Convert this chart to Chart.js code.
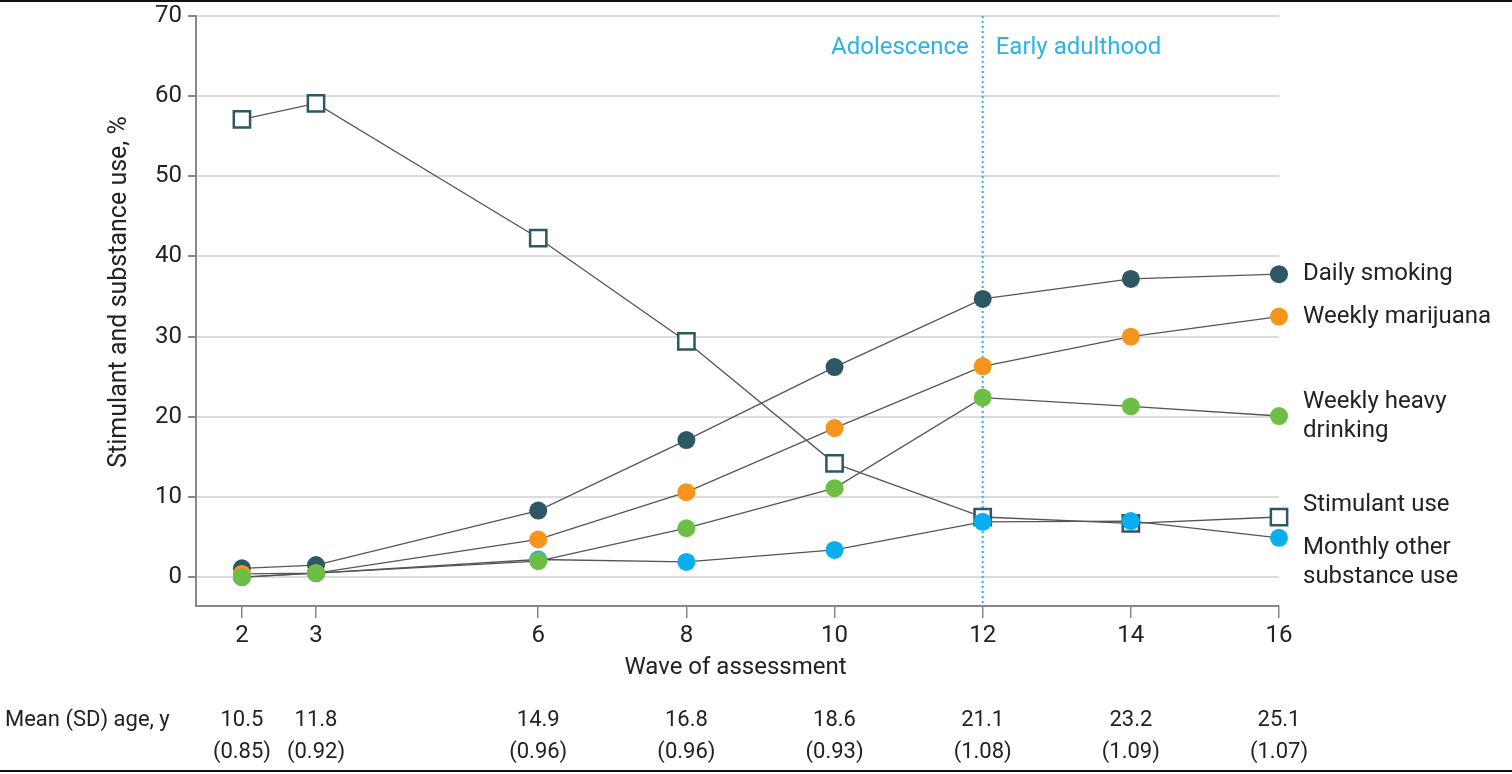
<!DOCTYPE html>
<html>
<head>
<meta charset="utf-8">
<script src="https://cdn.jsdelivr.net/npm/chart.js@4"></script>
<style>
  html,body{margin:0;padding:0;background:#fff;}
  #wrap{width:1512px;height:774px;position:relative;}
  #wrap:before{content:'';position:absolute;left:0;right:0;top:0;height:2px;background:#111;}
  #wrap:after{content:'';position:absolute;left:0;right:0;bottom:2px;height:2px;background:#111;}
</style>
</head>
<body>
<div id="wrap"><canvas id="c" width="1512" height="774"></canvas></div>
<script>
const waves = [2, 3, 6, 8, 10, 12, 14, 16];
const yTicks = [0, 10, 20, 30, 40, 50, 60, 70];
const ageMean = ['10.5', '11.8', '14.9', '16.8', '18.6', '21.1', '23.2', '25.1'];
const ageSD = ['(0.85)', '(0.92)', '(0.96)', '(0.96)', '(0.93)', '(1.08)', '(1.09)', '(1.07)'];

const dailySmoking = [1.1, 1.5, 8.3, 17.1, 26.2, 34.7, 37.2, 37.8];
const weeklyMarijuana = [0.4, 0.5, 4.7, 10.6, 18.6, 26.3, 30.0, 32.5];
const weeklyHeavyDrinking = [0.0, 0.5, 2.0, 6.1, 11.1, 22.4, 21.3, 20.1];
const stimulantUse = [57.1, 59.1, 42.3, 29.4, 14.2, 7.5, 6.7, 7.5];
const monthlyOther = [0.0, 0.5, 2.2, 1.9, 3.4, 6.9, 7.0, 4.9];

const FONT = 'Roboto, "Noto Sans", sans-serif';
const TXT = '#222';

function pts(vals){ return vals.map((v,i)=>({x:waves[i], y:v})); }

// label text + pixel nudge for the right-hand series names (ds = dataset index)
const seriesLabels = [
  { ds: 3, lines: ['Daily smoking'], dy: 0 },
  { ds: 1, lines: ['Weekly marijuana'], dy: 0 },
  { ds: 0, lines: ['Weekly heavy', 'drinking'], dy: 0 },
  { ds: 4, lines: ['Stimulant use'], dy: -12 },
  { ds: 2, lines: ['Monthly other', 'substance use'], dy: 25 }
];

const overlay = {
  id: 'overlay',
  beforeDatasetsDraw(chart){
    const {ctx, chartArea:a, scales:{x}} = chart;
    const px = x.getPixelForValue(12);
    ctx.save();
    ctx.strokeStyle = '#2bb3e6'; ctx.lineWidth = 2; ctx.setLineDash([2,3]);
    ctx.beginPath(); ctx.moveTo(px, a.top); ctx.lineTo(px, a.bottom); ctx.stroke();
    ctx.setLineDash([]);
    ctx.font = '24px ' + FONT; ctx.fillStyle = '#2bb3e6'; ctx.textBaseline = 'middle';
    ctx.textAlign = 'right'; ctx.fillText('Adolescence', px - 14, 48);
    ctx.textAlign = 'left'; ctx.fillText('Early adulthood', px + 13, 48);
    ctx.restore();
  },
  afterDraw(chart){
    const {ctx, chartArea:a, scales:{x, y}} = chart;
    ctx.save();
    ctx.fillStyle = TXT; ctx.textBaseline = 'middle';
    // axis titles
    ctx.font = '24px ' + FONT; ctx.textAlign = 'center';
    ctx.fillText('Wave of assessment', (a.left + a.right)/2 - 2, 668);
    ctx.save();
    ctx.font = '25px ' + FONT;
    ctx.translate(120, 292);
    ctx.rotate(-Math.PI/2);
    ctx.fillText('Stimulant and substance use, %', 0, 0);
    ctx.restore();
    // right-hand labels
    ctx.textAlign = 'left';
    const lx = x.getPixelForValue(16) + 24;
    seriesLabels.forEach(l => {
      const d = chart.data.datasets[l.ds].data;
      const py = y.getPixelForValue(d[d.length-1].y) + l.dy;
      const h = 29, start = py - (l.lines.length-1)*h/2;
      l.lines.forEach((t,i)=> ctx.fillText(t, lx, start + i*h));
    });
    // age rows
    ctx.font = '22px ' + FONT;
    ctx.textAlign = 'left'; ctx.fillText('Mean (SD) age, y', 5, 720);
    ctx.textAlign = 'center';
    waves.forEach((w,i) => {
      const px = x.getPixelForValue(w);
      ctx.fillText(ageMean[i], px, 720);
      ctx.fillText(ageSD[i], px, 752);
    });
    ctx.restore();
  }
};

function ds(label, vals, color, style){
  const sq = style === 'rect';
  return {
    label, data: pts(vals),
    borderColor: '#555', borderWidth: 1.3,
    pointStyle: style || 'circle',
    pointRadius: sq ? 11.5 : 9,
    pointBackgroundColor: sq ? '#fff' : color,
    pointBorderColor: color,
    pointBorderWidth: sq ? 2.5 : 0,
    clip: false
  };
}

// dataset 0 is drawn on top
new Chart(document.getElementById('c'), {
  type: 'line',
  data: { datasets: [
    ds('Weekly heavy drinking', weeklyHeavyDrinking, '#6cbf44'),
    ds('Weekly marijuana', weeklyMarijuana, '#f7941d'),
    ds('Monthly other substance use', monthlyOther, '#0aaeef'),
    ds('Daily smoking', dailySmoking, '#2e5766'),
    ds('Stimulant use', stimulantUse, '#2e5766', 'rect')
  ]},
  options: {
    responsive: false, animation: false,
    layout: { padding: { top: 16, right: 233, left: 0, bottom: 0 } },
    plugins: { legend: { display: false }, tooltip: { enabled: false } },
    scales: {
      x: {
        type: 'linear', min: 1.38, max: 16,
        afterBuildTicks: s => { s.ticks = waves.map(v => ({value: v})); },
        afterFit: s => { s.height = 168; s.paddingLeft = 0; s.paddingRight = 0; },
        border: { color: '#888', width: 2 },
        grid: { drawOnChartArea: false, drawTicks: true, tickLength: 12, color: '#888', lineWidth: 1.5 },
        ticks: { color: TXT, font: { family: FONT, size: 24 }, padding: 4, maxRotation: 0 }
      },
      y: {
        min: -3.6, max: 70,
        afterBuildTicks: s => { s.ticks = yTicks.map(v => ({value: v})); },
        afterFit: s => { s.width = 196; s.paddingTop = 0; s.paddingBottom = 0; },
        border: { color: '#888', width: 2 },
        grid: { color: '#dcdcdc', lineWidth: 2, tickLength: 8, tickColor: '#888' },
        ticks: { color: TXT, font: { family: FONT, size: 24 }, padding: 6 }
      }
    }
  },
  plugins: [overlay]
});
</script>
</body>
</html>
